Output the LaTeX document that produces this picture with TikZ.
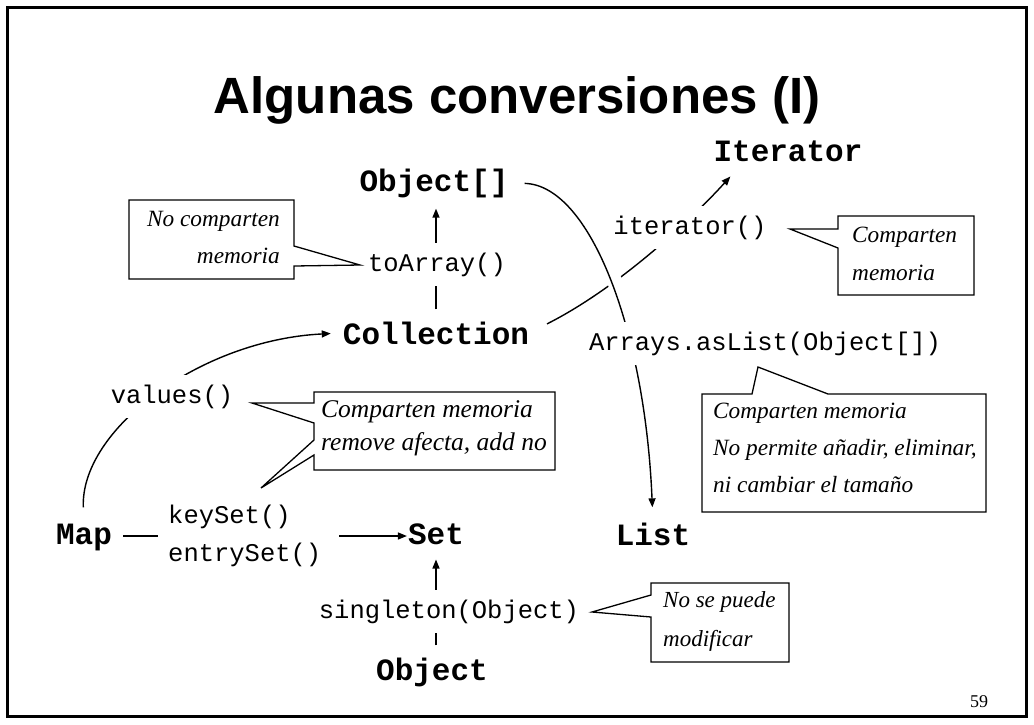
\documentclass[tikz,border=0pt]{standalone}
\usepackage{fontspec}
\setmainfont{Liberation Serif}
\newfontfamily\sansbold{Liberation Sans}
\newfontfamily\codefont{Liberation Mono}
\newfontfamily\notefont{Liberation Serif Italic}
\usetikzlibrary{arrows.meta}
% stacked lines, baseline of the first line, left or right aligned
\newcommand\lstack[1]{\vtop{\halign{##\hfil\cr#1\crcr}}}
\newcommand\rstack[1]{\vtop{\halign{\hfil##\cr#1\crcr}}}

\begin{document}
\begin{tikzpicture}[x=1pt,y=-1pt,
  arr/.style={line width=1.4pt, -{Triangle[length=9pt,width=7pt]}},
  conn/.style={line width=1.4pt},
  cls/.style={font=\codefont\bfseries\fontsize{31}{37}\selectfont, inner sep=0pt, anchor=base},
  meth/.style={font=\codefont\fontsize{25.5}{38}\selectfont, anchor=base, fill=white, inner xsep=6pt, inner ysep=10pt},
  callout/.style={draw, fill=white, line width=1.3pt, line join=miter},
  note/.style={font=\notefont\fontsize{23.3}{37}\selectfont, inner sep=0pt, anchor=base west},
]
\useasboundingbox (0,0) rectangle (1034,724);
\draw[line width=2.8pt] (7.5,7.5) rectangle (1026.5,716.5);

% title
\node[font=\sansbold\bfseries\fontsize{51}{60}\selectfont, anchor=base] (title) at (517,113) {Algunas conversiones (I)};

% types
\node[cls] (objarr) at (434,191) {Object[]};
\node[cls] (coll)   at (436,344) {Collection};
\node[cls] (iter)   at (788,161) {Iterator};
\node[cls] (map)    at (84,544)  {Map};
\node[cls] (set)    at (436,544) {Set};
\node[cls] (list)   at (653,545) {List};
\node[cls] (obj)    at (432,680) {Object};

% Map views
\node[font=\codefont\fontsize{25.5}{38}\selectfont, align=left, inner xsep=10pt, inner ysep=0pt, anchor=west] (mlab) at (158,536) {keySet()\\entrySet()};
\coordinate (itend) at ([xshift=17pt,yshift=-15pt]iter.south west);

% conversions
\draw[arr, shorten <=12pt, shorten >=11pt] (coll.north) -- (coll.north |- objarr.south);
\draw[arr, shorten <=12pt, shorten >=15pt] (set.south |- obj.north) -- (set.south);
\draw[conn, shorten <=11pt] (map.east |- mlab.west) -- (mlab.west);
\draw[arr, shorten <=8pt, shorten >=1pt] (mlab.east) -- (set.west |- mlab.east);
\draw[arr, shorten <=16pt, shorten >=12pt] (map.north) .. controls (80,430) and (200,340) .. (coll.west);
\draw[arr, shorten <=20pt] (coll.east) .. controls (618,288) and (690,221) .. (itend);
\path[draw=white, line width=15pt, shorten <=30pt, shorten >=60pt] (objarr.east) .. controls (590,185) and (645,330) .. (list.north);
\draw[arr, shorten <=16pt, shorten >=15pt] (objarr.east) .. controls (590,185) and (645,330) .. (list.north);

% method labels
\node[meth] (toarr)  at (437,271) {toArray()};
\node[meth] (itm)    at (690,234) {iterator()};
\node[meth] (aslist) at (765,350) {Arrays.asList(Object[])};
\node[meth] (vals)   at (172,403) {values()};
\node[meth] (single) at (449,618) {singleton(Object)};

% notes
\draw[callout] (129,200) -- (294,200) -- (294,246) -- (360,265) -- (294,266) -- (294,279) -- (129,279) -- cycle;
\node[note, anchor=base east] (n1) at (280,226) {\rstack{No comparten\cr memoria}};

\draw[callout] (838,216) -- (974,216) -- (974,295) -- (838,295) -- (838,248) -- (790,229) -- (838,229) -- cycle;
\node[note, font=\notefont\fontsize{23.3}{38}\selectfont] (n2) at (852,242) {\lstack{Comparten\cr memoria}};

\draw[callout] (314,392) -- (555,392) -- (555,470) -- (314,470) -- (314,455) -- (261,488) -- (314,440) -- (314,423) -- (252,403) -- (314,403) -- cycle;
\node[note, font=\notefont\fontsize{25.5}{33.5}\selectfont] (n3) at (321,417) {\lstack{Comparten memoria\cr remove afecta, add no}};

\draw[callout] (702,394) -- (752,394) -- (758,367) -- (828,394) -- (986,394) -- (986,512) -- (702,512) -- cycle;
\node[note] (n4) at (713,418) {\lstack{Comparten memoria\cr No permite añadir, eliminar,\cr ni cambiar el tamaño}};

\draw[callout] (651,583) -- (789,583) -- (789,662) -- (651,662) -- (651,617) -- (592,612) -- (651,595) -- cycle;
\node[note, font=\notefont\fontsize{23}{39}\selectfont] (n5) at (663,607) {\lstack{No se puede\cr modificar}};

% page number
\node[font=\fontsize{18}{20}\selectfont, anchor=base, inner sep=0pt] (pg) at (979,707) {59};
\end{tikzpicture}
\end{document}
